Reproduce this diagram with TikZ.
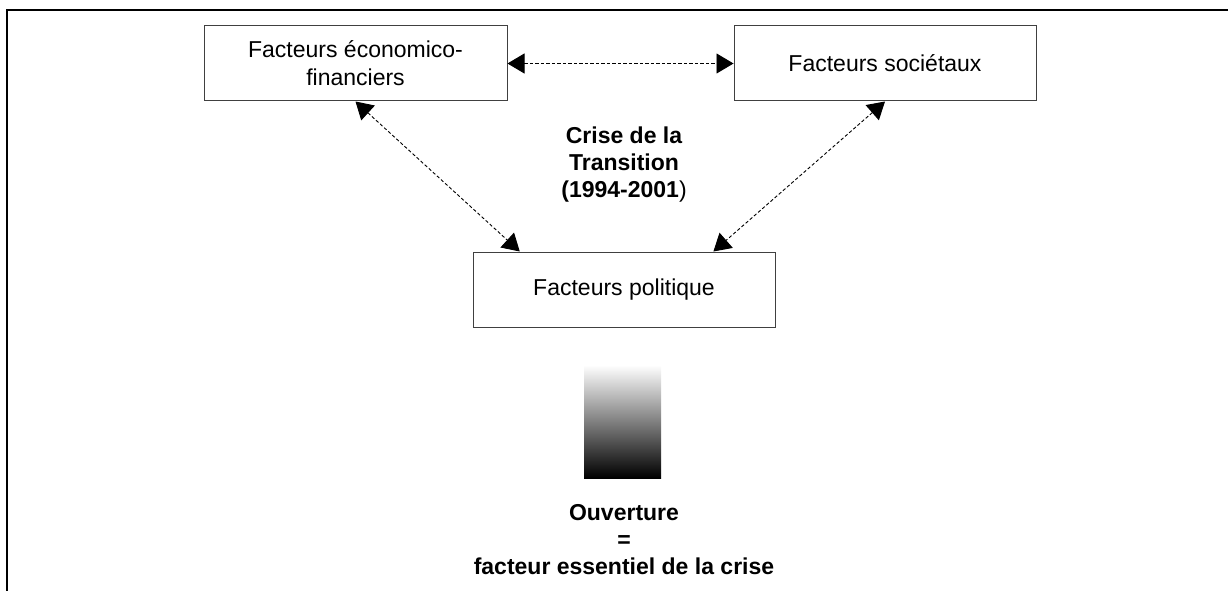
\documentclass[tikz,border=0pt]{standalone}
\usepackage{fontspec}
\setmainfont{Liberation Sans}
\usetikzlibrary{arrows.meta,calc}
\begin{document}
\begin{tikzpicture}[x=1pt,y=-1pt,
  box/.style={draw=black!75,line width=1pt,minimum width=302pt,minimum height=75pt,inner sep=0pt,align=center,font=\fontsize{23}{28}\selectfont},
  lbl/.style={align=center,inner sep=0pt,font=\fontsize{23}{27}\selectfont\bfseries},
  conn/.style={line width=0.9pt,dash pattern=on 3.3pt off 2.2pt,{<->},>={Triangle[length=17pt,width=20pt]}}]
\useasboundingbox (0,0) rectangle (1228,591);
\draw[line width=2.2pt] (7,591) -- (7,10) -- (1229,10);
\node[box,minimum width=303pt] (b1) at (355.5,63.5) {Facteurs économico-\\financiers};
\node[box] (b2) at (885,63.5) {Facteurs sociétaux};
\node[box] (b3) at (624,289.5) {Facteurs politique};
\node[lbl] (crise) at (624,164.5) {Crise de la\\Transition\\(1994-2001{\mdseries )}};
\node[inner sep=0pt,minimum width=77pt,minimum height=113pt,top color=white,bottom color=black] (grad) at (622.5,421.5) {};
\node[lbl] (ouv) at (624,540) {Ouverture\\=\\facteur essentiel de la crise};
\coordinate (t1) at ($(b3.north west)!0.156!(b3.north east)$);
\coordinate (t2) at ($(b3.north west)!0.795!(b3.north east)$);
\draw[conn] (b1.east) -- (b2.west);
\draw[conn] (b1.south) -- (t1);
\draw[conn] (b2.south) -- (t2);
\end{tikzpicture}
\end{document}
